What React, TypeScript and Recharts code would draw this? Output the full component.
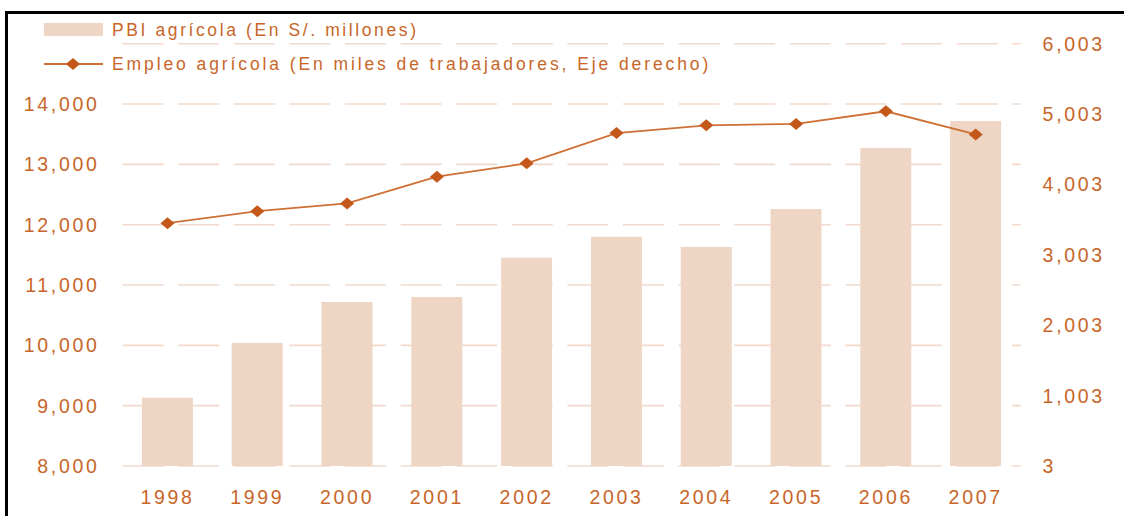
import React from "react";
import {
  ComposedChart,
  Bar,
  Line,
  XAxis,
  YAxis,
  CartesianGrid,
  Legend,
} from "recharts";

// Data

const years: string[] = ["1998", "1999", "2000", "2001", "2002", "2003", "2004", "2005", "2006", "2007"];
const pbiAgricola: number[] = [9130, 10040, 10720, 10800, 11450, 11800, 11630, 12260, 13270, 13720];
const empleoAgricola: number[] = [3450, 3620, 3730, 4110, 4300, 4730, 4840, 4860, 5040, 4710];

const leftTicks: number[] = [8000, 9000, 10000, 11000, 12000, 13000, 14000, 15000];
const leftTickLabels: string[] = ["8,000", "9,000", "10,000", "11,000", "12,000", "13,000", "14,000", ""];
const rightTicks: number[] = [0, 1000, 2000, 3000, 4000, 5000, 6000];
const rightTickLabels: string[] = ["3", "1,003", "2,003", "3,003", "4,003", "5,003", "6,003"];

const seriesNames: string[] = [
  "PBI agrícola (En S/. millones)",
  "Empleo agrícola (En miles de trabajadores, Eje derecho)",
];

const BAR_COLOR = "#EFD5C4";
const LINE_COLOR = "#CF7035";
const DOT_COLOR = "#C4571A";
const TEXT_COLOR = "#C8662A";
const GRID_COLOR = "#F1DACB";
const FONT = "'Liberation Sans', Arial, sans-serif";

const data = years.map((year, i) => ({
  year,
  pbi: pbiAgricola[i],
  empleo: empleoAgricola[i],
}));

// Helpers

const Diamond = (cx: number, cy: number, w: number, h: number, key?: any) => (
  <path
    key={key}
    d={`M${cx - w},${cy} L${cx},${cy - h} L${cx + w},${cy} L${cx},${cy + h} Z`}
    fill={DOT_COLOR}
    stroke="none"
  />
);

const renderDot = (props: any) => {
  const { cx, cy, index } = props;
  if (cx == null || cy == null) return <g key={`d-${index}`} />;
  return Diamond(cx, cy, 7, 6, `d-${index}`);
};

const renderLegend = () => {
  const textStyle = {
    fontFamily: FONT,
    fontSize: 17.5,
    fill: TEXT_COLOR,
  };
  return (
    <svg width={740} height={80}>
      <rect x={44} y={23} width={59} height={13} fill={BAR_COLOR} />
      <text x={112} y={30} dy="0.355em" style={{ ...textStyle, letterSpacing: 2.6 }}>
        {seriesNames[0]}
      </text>
      <line x1={44} x2={103} y1={64} y2={64} stroke={LINE_COLOR} strokeWidth={1.8} />
      {Diamond(73, 64, 7, 6)}
      <text x={112} y={64} dy="0.355em" style={{ ...textStyle, letterSpacing: 2.9 }}>
        {seriesNames[1]}
      </text>
    </svg>
  );
};

// Main

function App() {
  const tickStyle = {
    fontFamily: FONT,
    fontSize: 19.5,
    letterSpacing: 2.7,
    fill: TEXT_COLOR,
  };

  return (
    <div style={{ position: "absolute", left: 0, top: 0, width: 1124, height: 516, background: "#fff" }}>
      <div
        style={{
          position: "absolute",
          left: 5,
          top: 11,
          right: 0,
          bottom: 0,
          borderTop: "3px solid #000",
          borderLeft: "3px solid #000",
        }}
      />
      <ComposedChart
        width={1124}
        height={516}
        data={data}
        margin={{ top: 43.7, right: 23.4, left: 22.6, bottom: 20 }}
        barCategoryGap="21.5%"
      >
        <CartesianGrid
          yAxisId="left"
          vertical={false}
          stroke={GRID_COLOR}
          strokeWidth={1.6}
          strokeDasharray="41 14.6"
        />
        <XAxis
          dataKey="year"
          height={30}
          axisLine={false}
          tickLine={false}
          tickSize={0}
          tickMargin={24}
          tick={tickStyle}
          interval={0}
        />
        <YAxis
          yAxisId="left"
          width={100}
          domain={[8000, 15000]}
          ticks={leftTicks}
          interval={0}
          axisLine={false}
          tickLine={false}
          tickSize={0}
          tickMargin={23}
          tick={tickStyle}
          tickFormatter={(v: number) => leftTickLabels[leftTicks.indexOf(v)] ?? ""}
        />
        <YAxis
          yAxisId="right"
          orientation="right"
          width={80}
          domain={[0, 6000]}
          ticks={rightTicks}
          interval={0}
          axisLine={false}
          tickLine={false}
          tickSize={0}
          tickMargin={22}
          tick={{ ...tickStyle, textAnchor: "start" }}
          tickFormatter={(v: number) => rightTickLabels[rightTicks.indexOf(v)] ?? ""}
        />
        <Legend
          layout="vertical"
          align="center"
          verticalAlign="middle"
          content={renderLegend}
          wrapperStyle={{ left: 0, top: 0, width: 740, height: 80 }}
        />
        <Bar
          yAxisId="left"
          dataKey="pbi"
          name={seriesNames[0]}
          fill={BAR_COLOR}
          isAnimationActive={false}
        />
        <Line
          yAxisId="right"
          dataKey="empleo"
          name={seriesNames[1]}
          type="linear"
          stroke={LINE_COLOR}
          strokeWidth={1.8}
          dot={renderDot}
          activeDot={false}
          isAnimationActive={false}
        />
      </ComposedChart>
    </div>
  );
}

export default App;
